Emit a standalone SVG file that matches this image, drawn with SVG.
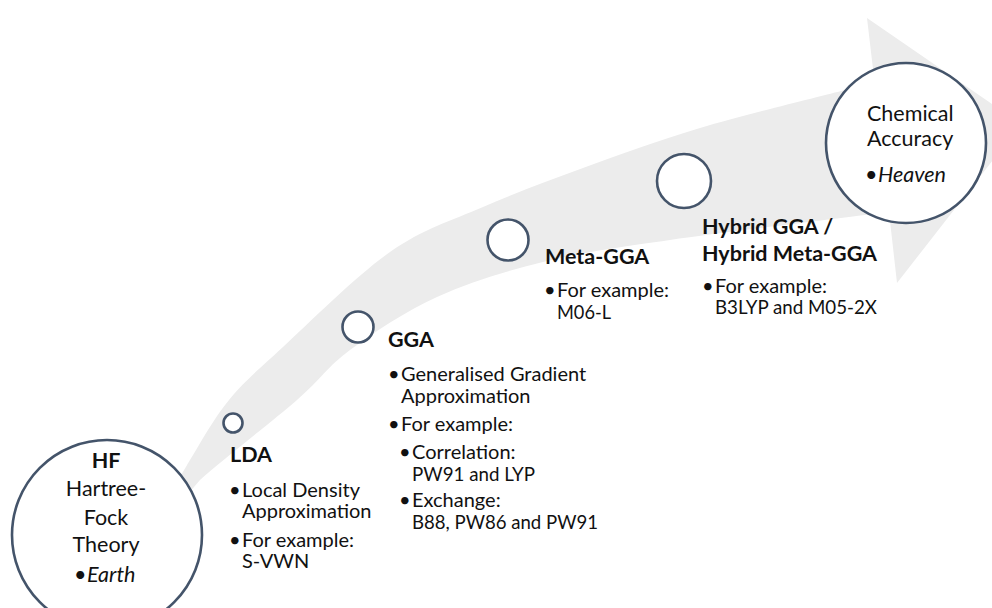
<svg xmlns="http://www.w3.org/2000/svg" width="992" height="608" viewBox="0 0 992 608">
<style>
.ring{fill:#ffffff;stroke:#44546a;stroke-width:2.6}
text{font-family:Lato,"Open Sans","Liberation Sans",sans-serif;fill:#111111}
.b{font-size:20px}
.h{font-size:21.5px;font-weight:bold}
.big{font-size:21.5px}
.c{text-anchor:middle}
.i{font-style:italic}
</style>
<rect width="992" height="608" fill="#ffffff"/>
<g id="arrow">
<path fill="#ececec" d="M165,505 C169.2,497.5 179.3,477.5 190,460 C200.7,442.5 213.5,418.8 229,400 C244.5,381.2 256.2,371.7 283,347 C309.8,322.3 356.7,275.3 390,252 C423.3,228.7 450.8,221 483,207 C515.2,193 546.8,181.2 583,168 C619.2,154.8 656.3,141 700,128 C743.7,115 820.8,96.3 845,90 L875,86 L867,18 L1021,124 L897,283 L889,212 C852.5,216.7 727.7,231.7 670,240 C612.3,248.3 581.8,252.5 543,262 C504.2,271.5 469.2,282.3 437,297 C404.8,311.7 373.3,332.8 350,350 C326.7,367.2 322,378.3 297,400 C272,421.7 221.2,460.8 200,480 L170,515 Z"/>
</g>
<g id="connectors"></g>
<g id="hf">
<circle class="ring" cx="107" cy="535" r="95"/>
<text class="big c" x="106" y="468" font-weight="bold">HF</text>
<text class="big c" x="106" y="496">Hartree-</text>
<text class="big c" x="106" y="525">Fock</text>
<text class="big c" x="106" y="552">Theory</text>
<text class="big"><tspan x="74" y="582">•</tspan><tspan x="87" y="582" class="i">Earth</tspan></text>
</g>
<g id="lda">
<circle class="ring" cx="233" cy="423" r="9.5"/>
<text class="h" x="230" y="462">LDA</text>
<text class="b"><tspan x="229" y="497">•</tspan><tspan x="242" y="497">Local Density</tspan><tspan x="242" y="518">Approximation</tspan><tspan x="229" y="547">•</tspan><tspan x="242" y="547">For example:</tspan><tspan x="242" y="568">S-VWN</tspan></text>
</g>
<g id="gga">
<circle class="ring" cx="358" cy="327" r="15.5"/>
<text class="h" x="388" y="347">GGA</text>
<text class="b"><tspan x="388" y="381">•</tspan><tspan x="401" y="381">Generalised Gradient</tspan><tspan x="401" y="403">Approximation</tspan><tspan x="388" y="431">•</tspan><tspan x="401" y="431">For example:</tspan><tspan x="399" y="459">•</tspan><tspan x="412" y="459">Correlation:</tspan><tspan x="412" y="481" textLength="123" lengthAdjust="spacingAndGlyphs">PW91 and LYP</tspan><tspan x="399" y="507">•</tspan><tspan x="412" y="507">Exchange:</tspan><tspan x="412" y="529" textLength="186" lengthAdjust="spacingAndGlyphs">B88, PW86 and PW91</tspan></text>
</g>
<g id="metagga">
<circle class="ring" cx="508" cy="240" r="20.5"/>
<text class="h" x="545" y="264">Meta-GGA</text>
<text class="b"><tspan x="544" y="297">•</tspan><tspan x="557" y="297">For example:</tspan><tspan x="557" y="319" textLength="54" lengthAdjust="spacingAndGlyphs">M06-L</tspan></text>
</g>
<g id="hybrid">
<circle class="ring" cx="684" cy="181" r="27"/>
<text class="h"><tspan x="702" y="234">Hybrid GGA /</tspan><tspan x="702" y="261">Hybrid Meta-GGA</tspan></text>
<text class="b"><tspan x="702" y="293">•</tspan><tspan x="715" y="293">For example:</tspan><tspan x="715" y="314" textLength="162" lengthAdjust="spacingAndGlyphs">B3LYP and M05-2X</tspan></text>
</g>
<g id="chemical">
<circle class="ring" cx="906" cy="143" r="80"/>
<text class="big"><tspan x="867" y="121">Chemical</tspan><tspan x="867" y="146">Accuracy</tspan></text>
<text class="big"><tspan x="865" y="182">•</tspan><tspan x="878" y="182" class="i">Heaven</tspan></text>
</g>
</svg>
